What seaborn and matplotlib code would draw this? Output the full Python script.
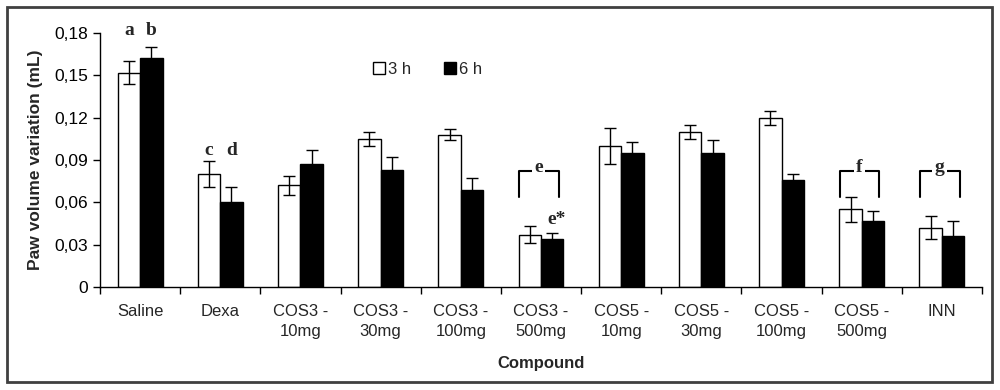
import seaborn as sns
import matplotlib.pyplot as plt
import numpy as np
import pandas as pd
from matplotlib.lines import Line2D
from matplotlib.patches import Rectangle

compounds = ['Saline', 'Dexa', 'COS3 -\n10mg', 'COS3 -\n30mg', 'COS3 -\n100mg', 'COS3 -\n500mg',
             'COS5 -\n10mg', 'COS5 -\n30mg', 'COS5 -\n100mg', 'COS5 -\n500mg', 'INN']
mean_3h = [0.152, 0.080, 0.072, 0.105, 0.108, 0.037, 0.100, 0.110, 0.120, 0.055, 0.042]
err_3h = [0.008, 0.009, 0.007, 0.005, 0.004, 0.006, 0.013, 0.005, 0.005, 0.009, 0.008]
mean_6h = [0.162, 0.060, 0.087, 0.083, 0.069, 0.034, 0.095, 0.095, 0.076, 0.047, 0.036]
err_6h = [0.008, 0.011, 0.010, 0.009, 0.008, 0.004, 0.008, 0.009, 0.004, 0.007, 0.011]
yticks = [0, 0.03, 0.06, 0.09, 0.12, 0.15, 0.18]
ytick_labels = ['0', '0,03', '0,06', '0,09', '0,12', '0,15', '0,18']

df = pd.DataFrame({'Compound': compounds * 2,
                   'time': ['3 h'] * 11 + ['6 h'] * 11,
                   'value': mean_3h + mean_6h})

sns.set_style('white')
plt.rcParams['font.family'] = ['Liberation Sans', 'DejaVu Sans']

fig = plt.figure(figsize=(10, 3.9), dpi=100)
ax = fig.add_axes([0.1, 1 - 287 / 390, 0.882, 254 / 390])
sns.barplot(data=df, x='Compound', y='value', hue='time', palette=['white', 'black'],
            edgecolor='black', linewidth=1, width=0.56, errorbar=None, ax=ax, legend=False)

# error bars on top of each bar
for cont, errs in zip(ax.containers, [err_3h, err_6h]):
    xs = [b.get_x() + b.get_width() / 2 for b in cont]
    ys = [b.get_height() for b in cont]
    ax.errorbar(xs, ys, yerr=errs, fmt='none', ecolor='black', elinewidth=1, capsize=4, capthick=1)

ax.set_xlim(-0.5, 10.5)
ax.set_ylim(0, 0.18)
ax.set_yticks(yticks)
ax.set_yticklabels(ytick_labels)
ax.set_xticks(np.arange(-0.5, 11, 1), minor=True)
ax.tick_params(axis='x', which='major', length=0, labelsize=12, pad=12)
ax.tick_params(axis='x', which='minor', length=5, width=1, direction='out', bottom=True, color='black')
ax.tick_params(axis='y', length=5, width=1, direction='out', left=True, labelsize=12.5, colors='black')
for t in ax.get_xticklabels():
    t.set_linespacing(1.45)
for s in ['top', 'right']:
    ax.spines[s].set_visible(False)
for s in ['left', 'bottom']:
    ax.spines[s].set_color('black')
    ax.spines[s].set_linewidth(1)
ax.set_xlabel('Compound', fontsize=12, fontweight='bold', labelpad=12)
ax.set_ylabel('Paw volume variation (mL)', fontsize=12.5, fontweight='bold', labelpad=8)

# letters
c3 = [b.get_x() + b.get_width() / 2 for b in ax.containers[0]]
c6 = [b.get_x() + b.get_width() / 2 for b in ax.containers[1]]
lt = dict(fontsize=14, fontweight='bold', family='Liberation Serif', ha='center', va='center')
ax.text(c3[0], 0.182, 'a', clip_on=False, **lt)
ax.text(c6[0], 0.182, 'b', clip_on=False, **lt)
ax.text(c3[1], 0.097, 'c', **lt)
ax.text(c6[1], 0.097, 'd', **lt)
ax.text(c6[5] + 0.06, 0.048, 'e*', **lt)
for i, lab in [(5, 'e'), (9, 'f'), (10, 'g')]:
    x0, x1 = i - 0.27, i + 0.22
    ax.plot([x0, x0, x1, x1], [0.064, 0.0824, 0.0824, 0.064], color='black', lw=1.5)
    ax.text(i - 0.03, 0.0845, lab, bbox=dict(facecolor='white', edgecolor='none', pad=1.5), **lt)

handles = [Line2D([], [], marker='s', ls='none', markersize=8, markerfacecolor='white', markeredgecolor='black'),
           Line2D([], [], marker='s', ls='none', markersize=8, markerfacecolor='black', markeredgecolor='black')]
ax.legend(handles, ['3 h', '6 h'], ncol=2, frameon=False, fontsize=12, handletextpad=0.05,
          columnspacing=1.8, handlelength=1.0, loc='center left', bbox_to_anchor=(0.29, 0.855))

fig.patches.append(Rectangle((7 / 1000, 1 - 382 / 390), 985 / 1000, 375 / 390, transform=fig.transFigure,
                             fill=False, edgecolor='#404040', lw=2))
plt.savefig('out.png', dpi=100)
